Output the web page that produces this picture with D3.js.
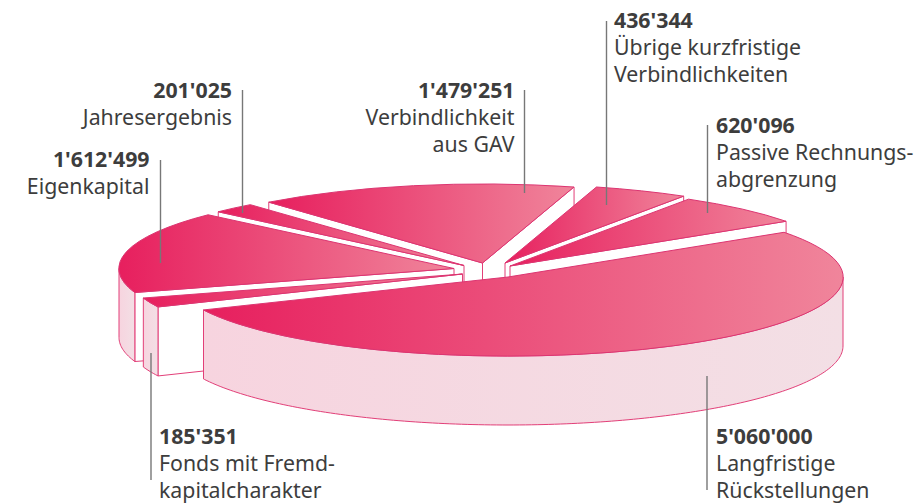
<!DOCTYPE html>
<html><head><meta charset="utf-8">
<script src="https://cdn.jsdelivr.net/npm/d3@7"></script>
<style>html,body{margin:0;padding:0;background:#fff}svg{display:block}text{font-family:"Noto Sans","Open Sans",sans-serif;font-size:21.3px;fill:#3d3d3d}</style>
</head><body><svg id="c" width="921" height="504"></svg>
<script>
// data
const categories = ["Langfristige\nRückstellungen","Fonds mit Fremd-\nkapitalcharakter","Eigenkapital","Jahresergebnis","Verbindlichkeit\naus GAV","Übrige kurzfristige\nVerbindlichkeiten","Passive Rechnungs-\nabgrenzung"];
const values = [5060000,185351,1612499,201025,1479251,436344,620096];
// layout
const explodedCentres = [[508,277],[462.5,274],[454,268.5],[464,265.5],[482.5,263],[505,263],[510,266]];
const drawOrder = [4,3,5,6,2,1,0];
const leaders = [[707,376,490],[151,353,480],[160.5,160,263],[242.5,90,213],[524.5,90,193],[606.5,21,205],[707.5,125,213]];
const labelX = [716,159,149.5,232,514.5,614,716];
const labelAnchor = ["start","start","end","end","end","start","start"];
const labelTop = [444,444,167,98,98,28,133];
const RX=335, RY=79, DEPTH=69, LINE=27;

const svg=d3.select("#c");
const rad=d=>d*Math.PI/180, tau=Math.PI*2;
const sx=d3.scaleLinear().domain([-1,1]).range([-RX,RX]);
const sy=d3.scaleLinear().domain([-1,1]).range([-RY,RY]);
const fmt=d3.formatLocale({decimal:".",thousands:"'",grouping:[3],currency:["",""]}).format(",d");
const pie=d3.pie().sort(null).startAngle(rad(55.5)).endAngle(rad(55.5)+tau);
const slices=pie(values);
const defs=svg.append("defs");
function grad(id,a,b){const g=defs.append("linearGradient").attr("id",id).attr("x1",0).attr("x2",1).attr("y1",0).attr("y2",0);
 g.append("stop").attr("offset",0).attr("stop-color",a);g.append("stop").attr("offset",1).attr("stop-color",b);}
grad("top","#e71f5e","#f0859b");grad("wall","#f7d4df","#f3dfe5");
const arc=d3.arc().innerRadius(0).outerRadius(1);
const line=d3.line();
const P=(a,c,dz=0)=>[c[0]+sx(Math.sin(a)),c[1]+sy(-Math.cos(a))+dz];
const SC="#e23f78";
drawOrder.forEach(i=>{
 const s=slices[i],c=explodedCentres[i],g=svg.append("g");
 const a0=s.startAngle,a1=s.endAngle;
 const face=a=>{g.append("path").attr("d",line([c,P(a,c),P(a,c,DEPTH),[c[0],c[1]+DEPTH]])+"Z").attr("fill","#fff").attr("stroke",SC).attr("stroke-width",1).attr("stroke-linejoin","round");};
 if(Math.sin(a0)<0) face(a0);
 if(Math.sin(a1)>0) face(a1);
 const lo=Math.max(a0,Math.PI/2),hi=Math.min(a1,Math.PI*1.5);
 if(hi>lo){
  const as=d3.range(lo,hi,rad(1)).concat([hi]);
  const pts=as.map(a=>P(a,c)).concat(as.slice().reverse().map(a=>P(a,c,DEPTH)));
  g.append("path").attr("d",line(pts)+"Z").attr("fill","url(#wall)").attr("stroke",SC).attr("stroke-width",1).attr("stroke-linejoin","round");
 }
 g.append("path").attr("d",arc({startAngle:a0,endAngle:a1}))
  .attr("transform",`translate(${c[0]},${c[1]}) scale(${RX},${RY})`)
  .attr("fill","url(#top)").attr("stroke","#dc3571").attr("stroke-width",1).attr("vector-effect","non-scaling-stroke").attr("stroke-linejoin","round");
});
categories.forEach((cat,i)=>{
 const [x,y1,y2]=leaders[i];
 svg.append("line").attr("x1",x).attr("x2",x).attr("y1",y1).attr("y2",y2).attr("stroke","#777").attr("stroke-width",1.4);
 svg.append("text").attr("x",labelX[i]).attr("y",labelTop[i]).attr("text-anchor",labelAnchor[i]).attr("font-weight",700).text(fmt(values[i]));
 cat.split("\n").forEach((t,k)=>svg.append("text").attr("x",labelX[i]).attr("y",labelTop[i]+LINE*(k+1)).attr("text-anchor",labelAnchor[i]).text(t));
});
</script></body></html>
